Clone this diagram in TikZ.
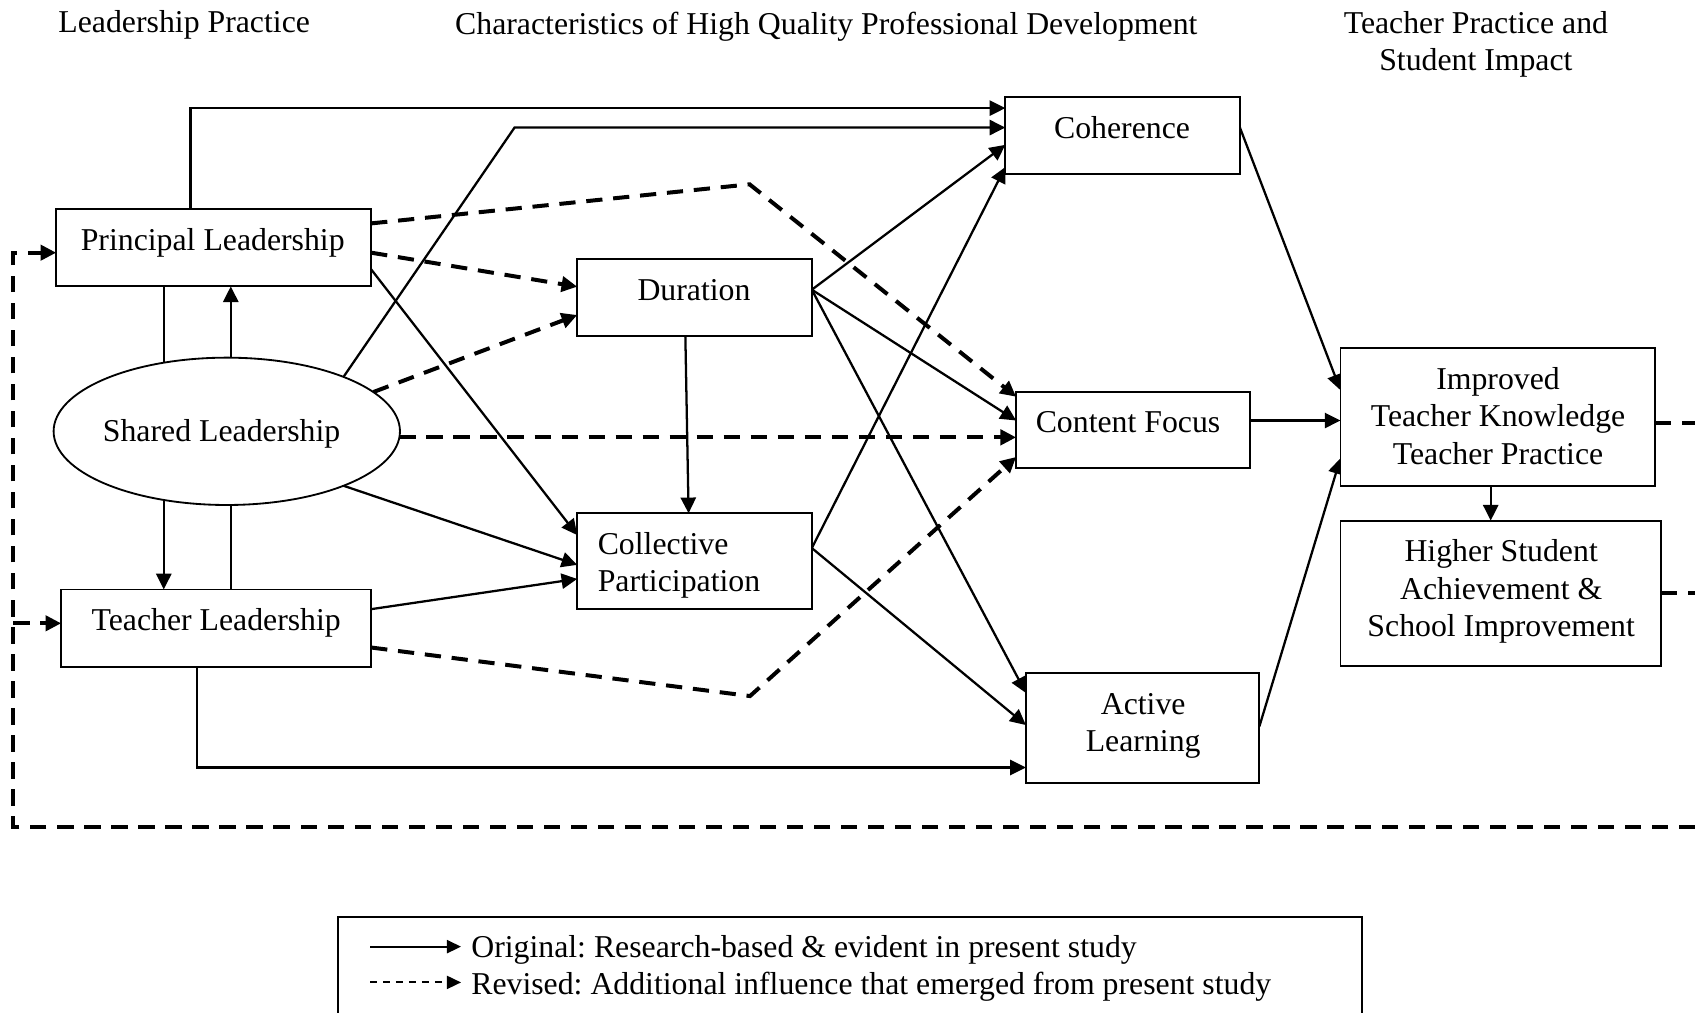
\documentclass[tikz,border=0pt]{standalone}
\usepackage{fontspec}
\setmainfont{Liberation Serif}
\usetikzlibrary{arrows.meta,shapes.geometric,backgrounds,calc}

\begin{document}
\frenchspacing
\begin{tikzpicture}[x=1pt,y=-1pt,
  font=\fontsize{29.4}{34.3}\selectfont,
  box/.style={draw, line width=1.7pt, fill=white, inner sep=0pt, outer sep=0pt},
  lbl/.style={inner sep=0pt, outer sep=0pt},
  tip/.style={-{Triangle[length=14.5pt,width=14pt]}},
  link/.style={line width=2.1pt, tip},
  dlink/.style={line width=3.7pt, dash pattern=on 15pt off 10pt, tip},
  dplain/.style={line width=3.7pt, dash pattern=on 15pt off 10pt},
  keytip/.style={-{Triangle[length=13pt,width=12pt]}},
]
\useasboundingbox (0,0) rectangle (1568,937);

% ---------- column headings ----------
\node[lbl, anchor=base] (h1) at (170.4,30.5) {Leadership Practice};
\node[lbl, anchor=base] (h2) at (764.4,31.5) {Characteristics of High Quality Professional Development};
\node[lbl, align=center] (h3) at (1365.3,41) {Teacher Practice and\\Student Impact};

% ---------- leadership practice ----------
\node[box, minimum width=291.4pt, minimum height=71.3pt] (pl) at (197.7,229.25) {};
\node[lbl, anchor=base] (plT) at (196.8,231.8) {Principal Leadership};
\node[box, ellipse, minimum width=320.4pt, minimum height=136.3pt] (sl) at (209.8,399) {};
\node[lbl, anchor=base] (slT) at (205,408.6) {Shared Leadership};
\node[box, minimum width=286.8pt, minimum height=71.5pt] (tl) at (200,581) {};
\node[lbl, anchor=base] (tlT) at (200,583.6) {Teacher Leadership};

% ---------- professional development ----------
\node[box, minimum width=217pt, minimum height=70.8pt] (dur) at (642.5,275.2) {};
\node[lbl, anchor=base] (durT) at (642,278.4) {Duration};
\node[box, minimum width=217pt, minimum height=88.8pt] (cp) at (642.5,519.2) {};
\node[lbl, align=left, anchor=west] (cpT) at (553,522.8) {Collective\\Participation};
\node[box, minimum width=217pt, minimum height=71pt] (coh) at (1038.5,125.5) {};
\node[lbl, anchor=base] (cohT) at (1038,128.2) {Coherence};
\node[box, minimum width=216pt, minimum height=70.4pt] (cf) at (1048,397.8) {};
\node[lbl, anchor=base] (cfT) at (1043.5,400.2) {Content Focus};
\node[box, minimum width=216pt, minimum height=101.4pt] (al) at (1057,673.3) {};
\node[lbl, align=center] (alT) at (1057.5,671.5) {Active\\Learning};

% ---------- outcomes ----------
\node[box, minimum width=291pt, minimum height=127.4pt] (imp) at (1385.5,385.9) {};
\node[lbl, align=center] (impT) at (1385.8,384.9) {Improved\\Teacher Knowledge\\Teacher Practice};
\node[box, minimum width=296.6pt, minimum height=134.4pt] (hs) at (1388.3,548.8) {};
\node[lbl, align=center] (hsT) at (1388.7,547.1) {Higher Student\\Achievement \&\\School Improvement};

% ---------- bend points ----------
\coordinate (c1) at (176.3,100);
\coordinate (c2) at (476,118);
\coordinate (c7) at (182.3,710);
\coordinate (d1) at (693.4,170.5);
\coordinate (d2) at (693.8,643.9);
\coordinate (v1) at (151.5,0);
\coordinate (v2) at (213.5,0);
\coordinate (fbR) at (1568,764.7);
\coordinate (fbL) at (12.4,764.7);
\coordinate (rE) at (1568,0);
\coordinate (dR) at ([yshift=7.2pt]dur.east);
\coordinate (cR) at ([yshift=12.2pt]cp.east);
\coordinate (plIn) at ([yshift=-4.5pt]pl.west);
\coordinate (tlIn) at ([yshift=4.4pt]tl.west);

% ---------- connectors ----------
\begin{scope}[on background layer]
  \fill[white] (0,0) rectangle (1568,937);
  % original (solid) influences
  \draw[link] (pl.north -| c1) -- (c1) -- (coh.west |- c1);
  \draw[link] (sl.25.6) -- (c2) -- (coh.west |- c2);
  \draw[link] ([yshift=-20pt]pl.east) -- ([yshift=24.2pt]cp.west);
  \draw[link] (pl.south -| v1) -- (tl.north -| v1);
  \draw[link] (tl.north -| v2) -- (pl.south -| v2);
  \draw[link] (sl.-25.9) -- ([yshift=-3.3pt]cp.west);
  \draw[link] ([yshift=17.5pt]tl.east) -- ([yshift=-16.3pt]cp.west);
  \draw[link] (tl.south -| c7) -- (c7) -- (al.west |- c7);
  \draw[link] ([xshift=-8.5pt]dur.south) -- ([xshift=-5.5pt]cp.north);
  \draw[link] (dR) -- ([yshift=-8.5pt]coh.west);
  \draw[link] (dR) -- ([yshift=8.8pt]cf.west);
  \draw[link] (dR) -- ([yshift=32.3pt]al.west);
  \draw[link] (cR) -- ([yshift=-29pt]coh.west);
  \draw[link] (cR) -- ([yshift=2.6pt]al.west);
  \draw[link] ([yshift=7.5pt]coh.east) -- ([yshift=25pt]imp.west);
  \draw[link] ([yshift=8.8pt]cf.east) -- ([yshift=8.8pt]cf.east -| imp.west);
  \draw[link] ([yshift=1.3pt]al.east) -- ([yshift=-38pt]imp.west);
  \draw[link] ([xshift=-6.5pt]imp.south) -- ([xshift=-6.5pt]imp.south |- hs.north);
  % revised (dashed) influences
  \draw[dlink] ([yshift=22.6pt]pl.east) -- (d1) -- ([yshift=30.8pt]cf.west);
  \draw[dlink] ([yshift=-4.5pt]pl.east) -- ([yshift=10pt]dur.west);
  \draw[dlink] (sl.15.5) -- ([yshift=-16.2pt]dur.west);
  \draw[dlink] (sl.-2.66) -- (sl.-2.66 -| cf.west);
  \draw[dlink] ([yshift=-18pt]tl.east) -- (d2) -- ([yshift=-24.9pt]cf.west);
  \draw[dplain] ([yshift=-5.6pt]imp.east) -- ([yshift=-5.6pt]imp.east -| rE);
  \draw[dplain] (hs.east) -- (hs.east -| rE);
  % feedback loop
  \draw[dlink] (fbR) -- (fbL) |- (plIn);
  \draw[dlink] (fbL |- tlIn) -- (tlIn);
\end{scope}

% ---------- key ----------
\node[lbl, fill=white, minimum width=946.8pt, minimum height=88.5pt, anchor=north west] (lg) at (313,848.5) {};
\draw[line width=1.7pt] (lg.south west) |- (lg.north east) -- (lg.south east);
\coordinate (ka1) at (342.3,875.7);
\coordinate (ka2) at (426.5,875.7);
\coordinate (kb1) at (342.3,908.8);
\coordinate (kb2) at (426.5,908.8);
\draw[line width=2pt, keytip] (ka1) -- (ka2);
\draw[line width=1.8pt, dash pattern=on 6.5pt off 5.5pt, keytip] (kb1) -- (kb2);
\node[lbl, anchor=base west] (kt1) at (436,886) {Original: Research-based \& evident in present study};
\node[lbl, anchor=base west] (kt2) at (436,920) {Revised: Additional influence that emerged from present study};
\end{tikzpicture}
\end{document}
